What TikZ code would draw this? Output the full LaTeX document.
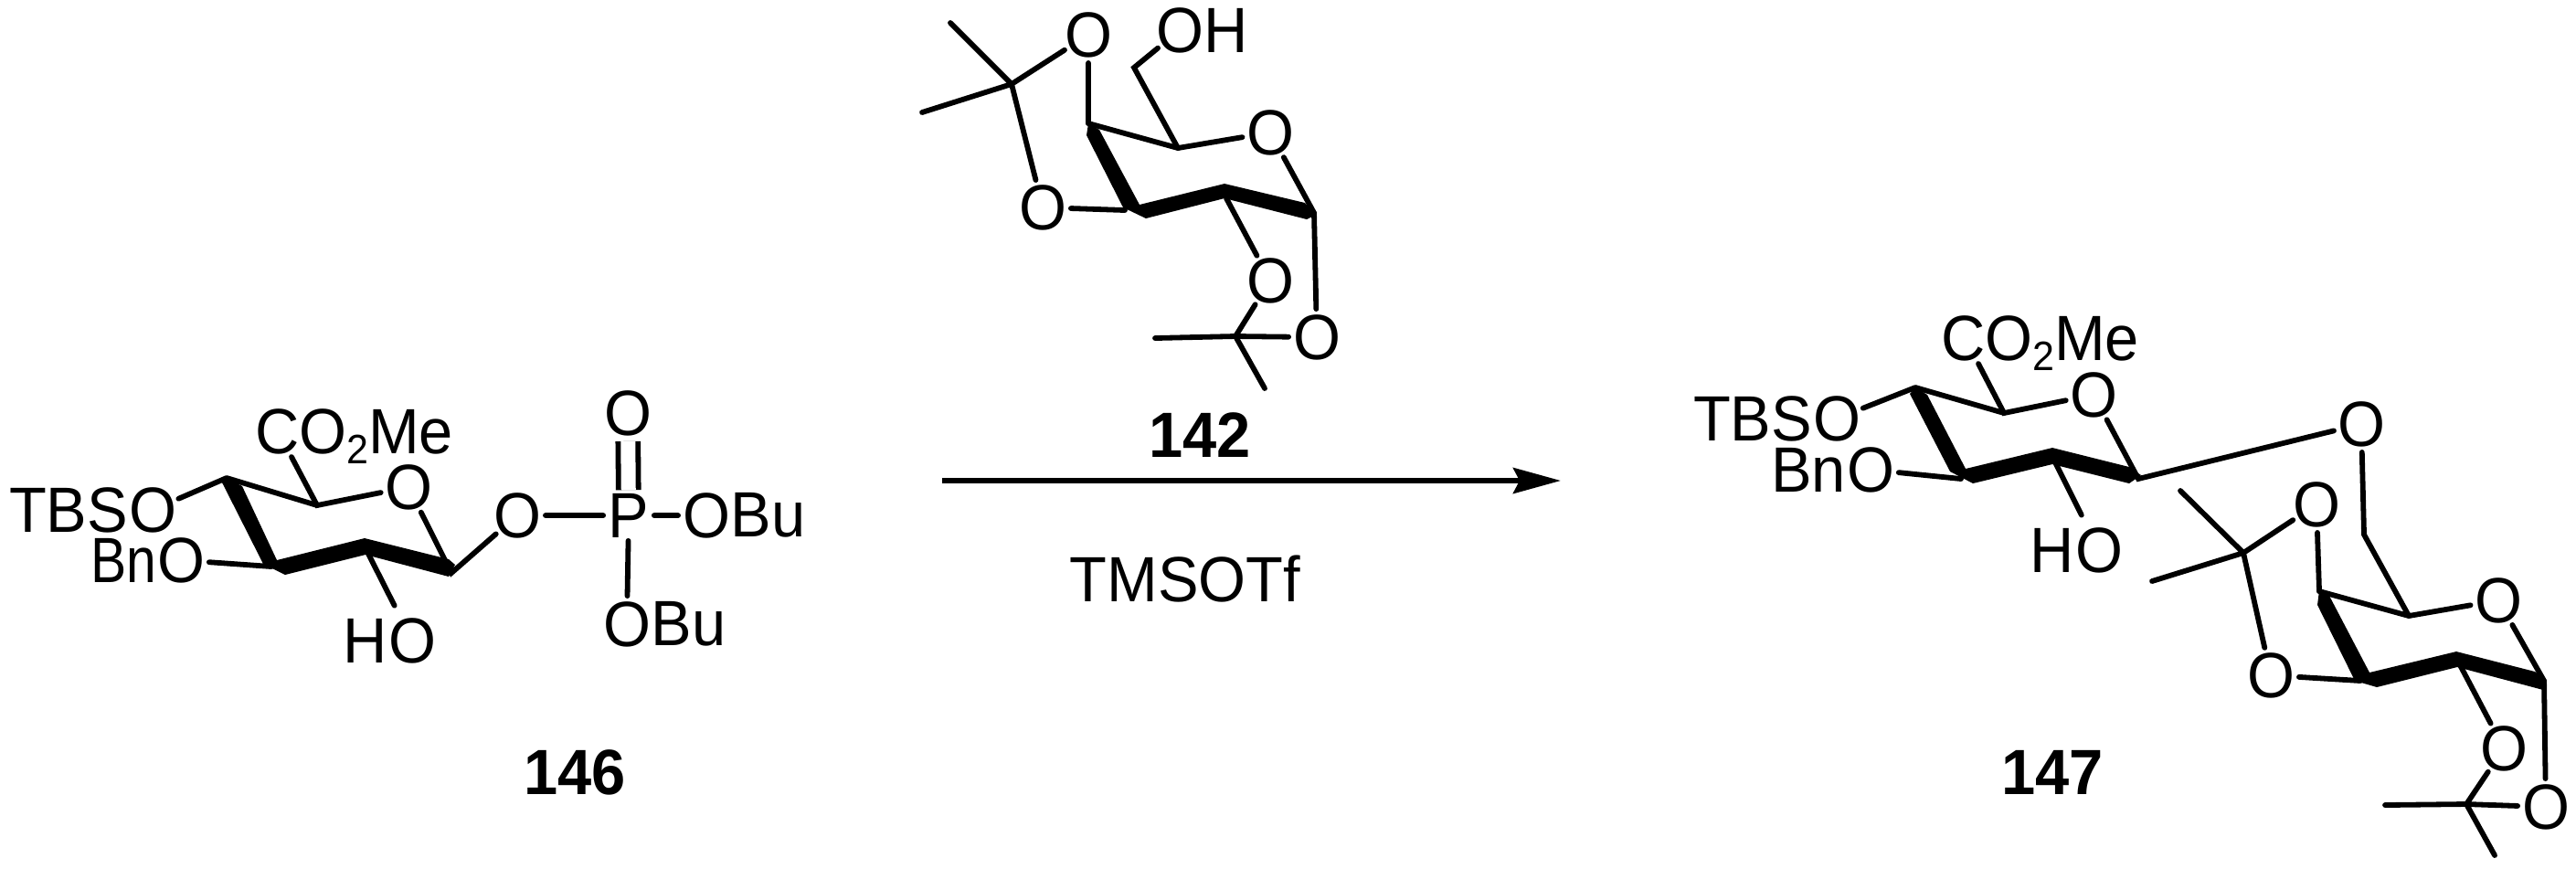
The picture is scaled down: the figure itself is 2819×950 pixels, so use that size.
\documentclass[tikz,border=0pt]{standalone}
\usepackage{fontspec}
\setmainfont[FakeStretch=0.955]{Liberation Sans}
\usetikzlibrary{arrows.meta,positioning}
\tikzset{
  bond/.style={line width=0.058cm, line cap=round},
  atom/.style={circle, inner sep=-1pt, outer sep=0pt, font=\fontsize{19.9}{24}\selectfont},
  lab/.style={inner sep=0pt, outer sep=0pt, font=\fontsize{19.9}{24}\selectfont},
  cpdno/.style={inner sep=0pt, outer sep=0pt, font=\fontsize{19.9}{24}\selectfont\bfseries}
}
\newcommand{\subtwo}{\raisebox{-0.11cm}{\fontsize{12.8}{14}\selectfont 2}}

\begin{document}
\begin{tikzpicture}[x=0.01cm, y=-0.01cm, >={Stealth[length=0.52cm,width=0.28cm,inset=0.07cm]}]
  \useasboundingbox (0,0) rectangle (2819,950);

  \coordinate (c5a) at (248,523);
  \coordinate (c4a) at (347,553);
  \coordinate (c3a) at (297,620);
  \coordinate (c2a) at (400,600);
  \coordinate (c1a) at (494,627);
  \coordinate (m1a) at (319,500);
  \node[atom] (oringa) at (447,533) {O};
  \node[atom] (otbsa) at (167,558) {O};
  \node[lab, left=-0.04cm of otbsa] (tbsa) {TBS};
  \node[atom] (obna) at (198,613) {O};
  \node[lab, xscale=0.88, left=-0.04cm of obna] (bna) {Bn};
  \node[atom] (ohoa) at (451,701) {O};
  \node[lab, left=-0.04cm of ohoa] (ha) {H};
  \node[atom] (oglya) at (566,564) {O};
  \node[atom] (pa) at (688,564) {P};
  \node[atom] (odba) at (687,452) {O};
  \node[atom] (obua) at (773,564) {O};
  \node[lab, right=-0.04cm of obua] (bua) {Bu};
  \node[atom] (obub) at (686,683) {O};
  \node[lab, right=-0.04cm of obub] (bub) {Bu};
  \node[lab, anchor=base west] (coa) at (279,496) {CO\subtwo Me};
  \node[cpdno] (n146) at (629,845) {146};
  \draw[bond] (m1a) -- (c4a) -- (oringa) (oringa) -- (c1a) -- (oglya) -- (pa) -- (obua) (pa) -- (obub);
  \draw[bond] (c5a) -- (c4a) (c5a) -- (otbsa) (c3a) -- (obna);
  \draw[bond, shorten >=0.12cm] (c2a) -- (ohoa);
  \draw[line width=0.058cm, double, double distance=0.16cm] (pa) -- (odba);
  \fill (248,523) -- (265,532) -- (303,613) -- (399,589) -- (491,612) -- (498,618) -- (491,631) -- (400,607) -- (312,629) -- (288,617) -- (243,528) -- cycle;

  \coordinate (c5b) at (1191,135);
  \coordinate (c4b) at (1289,162);
  \coordinate (c3b) at (1231,230);
  \coordinate (c2b) at (1342,217);
  \coordinate (c1b) at (1438,233);
  \coordinate (chb) at (1241,74);
  \coordinate (cmb) at (1107,92);
  \coordinate (meab) at (1040,25);
  \coordinate (mebb) at (1009,123);
  \coordinate (cnb) at (1352,368);
  \coordinate (mecb) at (1264,370);
  \coordinate (medb) at (1384,425);
  \node[atom] (oab) at (1191,38) {O};
  \node[atom] (obb) at (1141,227) {O};
  \node[atom] (ohb) at (1291,33) {O};
  \node[lab, right=-0.04cm of ohb] (hb) {H};
  \node[atom] (oringb) at (1390,145) {O};
  \node[atom] (ocb) at (1390,307) {O};
  \node[atom] (odb) at (1441,369) {O};
  \node[cpdno] (n142) at (1313,476) {142};
  \draw[bond] (c5b) -- (c4b) -- (oringb) (oringb) -- (c1b) -- (odb);
  \draw[bond] (ohb) -- (chb) -- (c4b) (c5b) -- (oab) -- (cmb) -- (meab) (cmb) -- (mebb) (cmb) -- (obb) -- (c3b);
  \draw[bond] (c2b) -- (ocb) -- (cnb) -- (mecb) (cnb) -- (medb) (cnb) -- (odb);
  \fill (1191,135) -- (1203,142) -- (1247,224) -- (1340,201) -- (1428,222) -- (1440,235) -- (1430,240) -- (1340,217) -- (1254,239) -- (1229,227) -- (1189,148) -- cycle;

  \coordinate (arrs) at (1031,526);
  \coordinate (arre) at (1708,526);
  \draw[line width=0.06cm, ->] (arrs) -- (arre);
  \node[lab, anchor=base] (tmsotf) at (1297,658) {TMSOTf};

  \coordinate (c5c) at (2096,424);
  \coordinate (c4c) at (2193,452);
  \coordinate (c3c) at (2146,524);
  \coordinate (c2c) at (2246,500);
  \coordinate (c1c) at (2340,524);
  \coordinate (m1c) at (2165,398);
  \node[atom] (oringc) at (2291,432) {O};
  \node[atom] (otbsc) at (2010,458) {O};
  \node[lab, left=-0.04cm of otbsc] (tbsc) {TBS};
  \node[atom] (obnc) at (2047,514) {O};
  \node[lab, left=-0.04cm of obnc] (bnc) {Bn};
  \node[atom] (ohoc) at (2297,602) {O};
  \node[lab, left=-0.04cm of ohoc] (hc) {H};
  \node[lab, anchor=base west] (coc) at (2124,394) {CO\subtwo Me};
  \node[atom] (oglyc) at (2584,464) {O};
  \draw[bond] (m1c) -- (c4c) -- (oringc) (oringc) -- (c1c) -- (oglyc);
  \draw[bond] (c5c) -- (c4c) (c5c) -- (otbsc) (c3c) -- (obnc);
  \draw[bond, shorten >=0.12cm] (c2c) -- (ohoc);
  \fill (2096,424) -- (2109,432) -- (2151,513) -- (2246,490) -- (2330,511) -- (2343,520) -- (2330,529) -- (2246,508) -- (2159,529) -- (2134,516) -- (2090,431) -- cycle;

  \coordinate (chd) at (2587,585);
  \coordinate (c5d) at (2538,647);
  \coordinate (c4d) at (2636,674);
  \coordinate (c3d) at (2583,745);
  \coordinate (c2d) at (2689,722);
  \coordinate (c1d) at (2784,745);
  \coordinate (cmd) at (2455,605);
  \coordinate (mead) at (2386,537);
  \coordinate (mebd) at (2355,636);
  \coordinate (cnd) at (2699,880);
  \coordinate (mecd) at (2610,881);
  \coordinate (medd) at (2730,936);
  \node[atom] (oad) at (2535,552) {O};
  \node[atom] (obd) at (2485,739) {O};
  \node[atom] (oringd) at (2734,657) {O};
  \node[atom] (ocd) at (2740,819) {O};
  \node[atom] (odd) at (2786,883) {O};
  \node[cpdno] (n147) at (2246,845) {147};
  \draw[bond] (oglyc) -- (chd) -- (c4d) (c5d) -- (c4d) -- (oringd) (oringd) -- (c1d) -- (odd);
  \draw[bond] (c5d) -- (oad) -- (cmd) -- (mead) (cmd) -- (mebd) (cmd) -- (obd) -- (c3d);
  \draw[bond] (c2d) -- (ocd) -- (cnd) -- (mecd) (cnd) -- (medd) (cnd) -- (odd);
  \fill (2538,646) -- (2549,652) -- (2593,736) -- (2688,713) -- (2774,735) -- (2784,743) -- (2783,755) -- (2689,730) -- (2601,752) -- (2577,745) -- (2536,662) -- cycle;
\end{tikzpicture}
\end{document}
